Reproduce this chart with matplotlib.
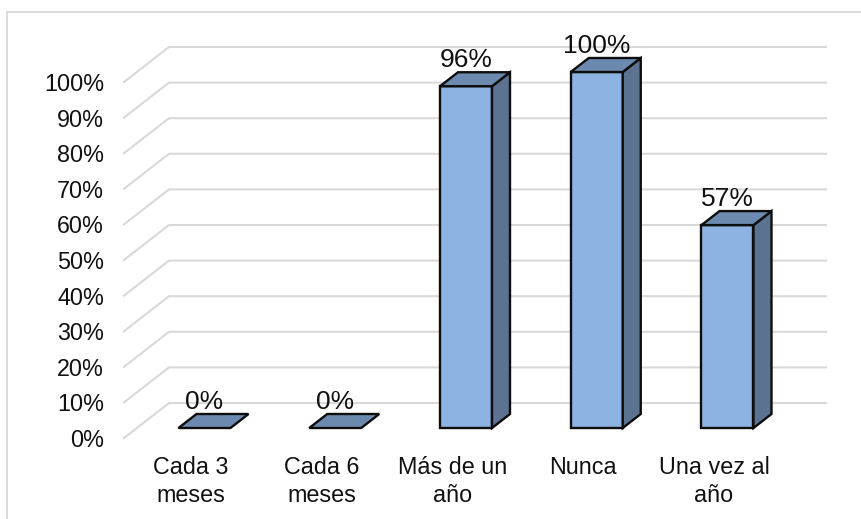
import matplotlib
matplotlib.use('Agg')
import matplotlib.pyplot as plt
from matplotlib.patches import Polygon, Rectangle

categories = ['Cada 3\nmeses', 'Cada 6\nmeses', 'Más de un\naño', 'Nunca', 'Una vez al\naño']
values = [0, 0, 96, 100, 57]
value_labels = ['0%', '0%', '96%', '100%', '57%']
y_ticks = [0, 10, 20, 30, 40, 50, 60, 70, 80, 90, 100]

W, H = 862, 519
X0, CAT = 204.5, 130.75   # pixel of first bar centre, pixels per category
Y0, PCT = 428.0, 3.56     # pixel of 0%, pixels per percent

plt.rcParams['font.family'] = ['Liberation Sans', 'DejaVu Sans']

fig = plt.figure(figsize=(W / 100, H / 100), dpi=100)
ax = fig.add_axes([0, 0, 1, 1])
ax.set_xlim(-X0 / CAT, (W - X0) / CAT)
ax.set_ylim(-(H - Y0) / PCT, Y0 / PCT)
ax.axis('off')

def px_x(p):
    return p / CAT

def px_y(p):
    return p / PCT

grid_color = '#d9d9d9'
half = px_x(26)
dx, dy = px_x(18), px_y(14)

# chart frame
ax.add_patch(Rectangle((ax.get_xlim()[0] + px_x(7), ax.get_ylim()[0] - px_y(5)),
                       px_x(W), px_y(H - 12 + 5), fill=False,
                       ec=grid_color, lw=1.3, clip_on=True))

# walls and gridlines
wall_l = -px_x(80.5)
wall_b = -px_x(35.5)
right = px_x(826 - X0)
for t in y_ticks:
    front = t - px_y(10)
    back = t + px_y(25)
    ax.plot([wall_l, wall_b, right], [front, back, back], color=grid_color, lw=1.5, zorder=1)
    ax.text(-px_x(100.5), front, str(t) + '%', ha='right', va='center_baseline',
            fontsize=16.8, color='#111111')

# bars
for i, v in enumerate(values):
    l, r = i - half, i + half
    if v > 0:
        ax.add_patch(Polygon([(l, 0), (r, 0), (r, v), (l, v)], fc='#8db3e2', ec='#0d0d0d', lw=1.7, zorder=3))
        ax.add_patch(Polygon([(r, 0), (r + dx, dy), (r + dx, v + dy), (r, v)], fc='#5b7391', ec='#0d0d0d', lw=1.7, zorder=3))
    ax.add_patch(Polygon([(l, v), (r, v), (r + dx, v + dy), (l + dx, v + dy)], fc='#6c8ab0', ec='#0d0d0d', lw=1.7, zorder=3))
    ax.text(i, v + px_y(28.5), value_labels[i], ha='center', va='center_baseline',
            fontsize=19, color='#111111', zorder=4)
    ax.text(i - px_x(13.5), -px_y(28), categories[i], ha='center', va='top',
            fontsize=16.8, color='#111111', linespacing=1.27)

fig.savefig('out.png', dpi=100)
